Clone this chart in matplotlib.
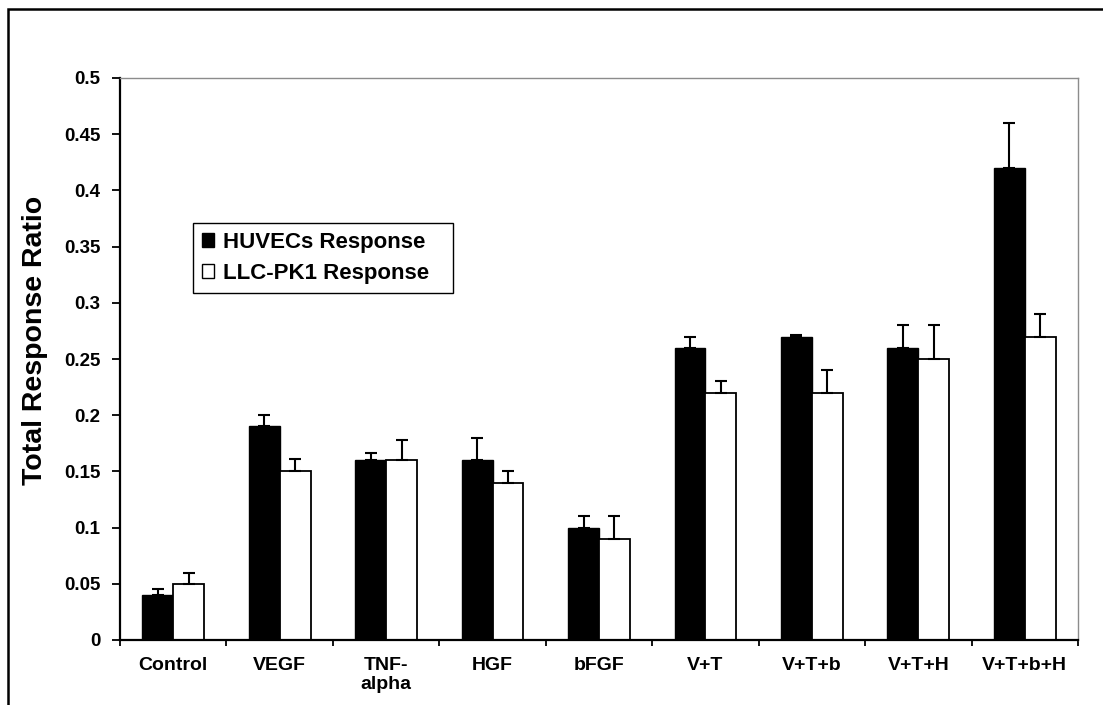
import matplotlib
matplotlib.use("Agg")
import matplotlib.pyplot as plt
import numpy as np
from matplotlib.patches import Rectangle, Patch

plt.rcParams["font.family"] = ["Liberation Sans", "DejaVu Sans"]
plt.rcParams["font.weight"] = "bold"

# Data
categories = ["Control", "VEGF", "TNF-\nalpha", "HGF", "bFGF",
              "V+T", "V+T+b", "V+T+H", "V+T+b+H"]
huvec_mean = [0.04, 0.19, 0.16, 0.16, 0.10, 0.26, 0.27, 0.26, 0.42]
huvec_err = [0.005, 0.01, 0.006, 0.02, 0.01, 0.01, 0.0015, 0.02, 0.04]
llc_mean = [0.05, 0.15, 0.16, 0.14, 0.09, 0.22, 0.22, 0.25, 0.27]
llc_err = [0.01, 0.011, 0.018, 0.01, 0.02, 0.01, 0.02, 0.03, 0.02]
y_ticks = [0, 0.05, 0.1, 0.15, 0.2, 0.25, 0.3, 0.35, 0.4, 0.45, 0.5]
y_tick_labels = ["0", "0.05", "0.1", "0.15", "0.2", "0.25", "0.3",
                 "0.35", "0.4", "0.45", "0.5"]
series_names = ["HUVECs Response", "LLC-PK1 Response"]

W, H = 1103, 705
fig = plt.figure(figsize=(W / 100, H / 100), dpi=100)
fig.patch.set_facecolor("white")
ax = fig.add_axes([120 / W, 1 - 640 / H, 958 / W, 562 / H])

x = np.arange(len(categories))
bw = 0.29

ax.bar(x - bw / 2, huvec_mean, width=bw, color="black", edgecolor="black",
       linewidth=1.0, zorder=2)
ax.bar(x + bw / 2, llc_mean, width=bw, color="white", edgecolor="black",
       linewidth=1.3, zorder=2)

err_kw = dict(fmt="none", ecolor="black", elinewidth=1.5, capsize=4.3,
              capthick=1.5, zorder=3)
ax.errorbar(x - bw / 2, huvec_mean,
            yerr=[np.zeros(len(x)), huvec_err], **err_kw)
ax.errorbar(x + bw / 2, llc_mean,
            yerr=[np.zeros(len(x)), llc_err], **err_kw)

ax.set_xlim(-0.5, len(categories) - 0.5)
ax.set_ylim(0, 0.5)

# Axis styling
for side in ("left", "bottom"):
    ax.spines[side].set_color("black")
    ax.spines[side].set_linewidth(1.6)
for side in ("top", "right"):
    ax.spines[side].set_color("#8c8c8c")
    ax.spines[side].set_linewidth(1.0)

ax.set_yticks(y_ticks)
ax.set_yticklabels(y_tick_labels, fontsize=13.5, fontweight="bold")
ax.tick_params(axis="y", direction="out", length=6, width=1.3, pad=8)

ax.set_xticks(x)
ax.set_xticklabels(categories, fontsize=14, fontweight="bold",
                   linespacing=1.2)
ax.set_xticks(np.arange(-0.5, len(categories)), minor=True)
ax.tick_params(axis="x", which="major", length=0, pad=12)
ax.tick_params(axis="x", which="minor", direction="out", length=4,
               width=1.3)

ax.set_ylabel("Total Response Ratio", fontsize=20.5, fontweight="bold")
ax.yaxis.set_label_coords(-0.075, 0.534)

handles = [Patch(facecolor="black", edgecolor="black", linewidth=1.0),
           Patch(facecolor="white", edgecolor="black", linewidth=1.0)]
leg = ax.legend(handles, series_names, loc="upper left",
                bbox_to_anchor=(0.0762, 0.617, 0.2714, 0.125),
                mode="expand", borderaxespad=0, fancybox=False,
                framealpha=1, edgecolor="black",
                prop={"size": 16, "weight": "bold"},
                handlelength=0.55, handleheight=0.55, handletextpad=0.4,
                labelspacing=0.45, borderpad=0.4)
leg.get_frame().set_linewidth(1.0)

# Outer frame around the figure
fig.add_artist(Rectangle((8 / W, -0.1), 1.2, (H - 9) / H + 0.1,
                         transform=fig.transFigure, fill=False,
                         edgecolor="black", linewidth=1.8))

fig.savefig("out.png", dpi=100, facecolor="white")
